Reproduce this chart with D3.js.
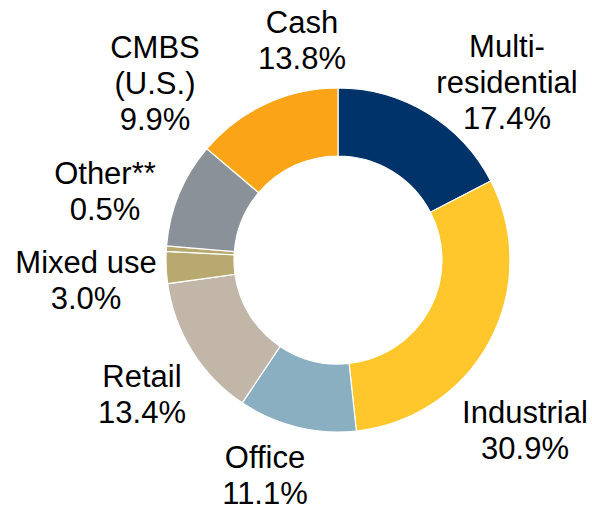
<!DOCTYPE html>
<html>
<head>
<meta charset="utf-8">
<script src="https://cdn.jsdelivr.net/npm/d3@7"></script>
<style>
  html, body { margin: 0; padding: 0; background: #fff; }
  svg { display: block; }
</style>
</head>
<body>
<svg id="chart" width="592" height="512"></svg>
<script>
// slices, clockwise from 12 o'clock
var categories = ["Multi-residential", "Industrial", "Office", "Retail", "Mixed use", "Other**", "CMBS (U.S.)", "Cash"];
var values = [17.4, 30.9, 11.1, 13.4, 3.0, 0.5, 9.9, 13.8];
var labelLines = [
  ["Multi-", "residential", "17.4%"],
  ["Industrial", "30.9%"],
  ["Office", "11.1%"],
  ["Retail", "13.4%"],
  ["Mixed use", "3.0%"],
  ["Other**", "0.5%"],
  ["CMBS", "(U.S.)", "9.9%"],
  ["Cash", "13.8%"]
];
var colors = ["#00336A", "#FFC72C", "#8AAFC1", "#C2B6A8", "#B8A971", "#B8A971", "#8A9199", "#FBA418"];

// label anchor: center x, baseline of first line
var labelPos = [[507, 57], [525, 423], [265, 468], [142, 387], [86, 273], [105, 184], [155, 58], [302, 33]];

var cx = 338, cy = 260, outerR = 172, innerR = 104;
var lineH = 36;

var svg = d3.select("#chart");
var g = svg.append("g").attr("transform", "translate(" + cx + "," + cy + ")");

var pie = d3.pie().sort(null).value(function(d) { return d; });
var arc = d3.arc().innerRadius(innerR).outerRadius(outerR);

g.selectAll("path")
  .data(pie(values))
  .enter()
  .append("path")
  .attr("d", arc)
  .attr("fill", function(d, i) { return colors[i]; })
  .attr("stroke", "#fff")
  .attr("stroke-width", 1.2);

var labels = svg.selectAll("text.lbl")
  .data(labelLines)
  .enter()
  .append("text")
  .attr("class", "lbl")
  .attr("text-anchor", "middle")
  .attr("font-family", "'Liberation Sans', Arial, sans-serif")
  .attr("font-size", "31px")
  .attr("fill", "#000");

labels.each(function(lines, i) {
  var t = d3.select(this);
  lines.forEach(function(s, j) {
    t.append("tspan")
      .attr("x", labelPos[i][0])
      .attr("y", labelPos[i][1] + j * lineH)
      .text(s);
  });
});
</script>
</body>
</html>
